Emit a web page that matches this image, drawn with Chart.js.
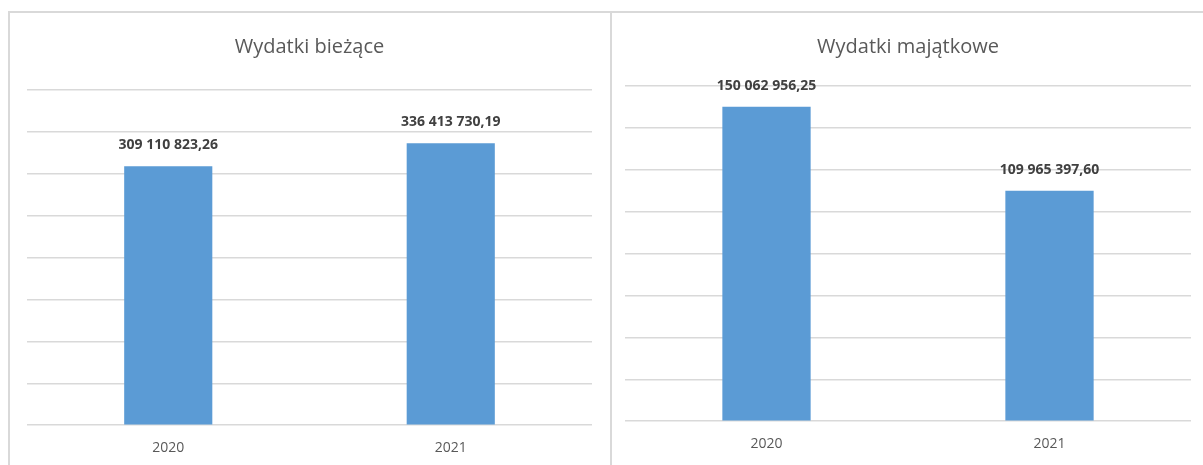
<!DOCTYPE html>
<html>
<head>
<meta charset="utf-8">
<script src="https://cdn.jsdelivr.net/npm/chart.js@4"></script>
<style>
  html, body { margin: 0; padding: 0; background: #fff; }
  body { width: 1203px; height: 465px; position: relative; overflow: hidden; }
  .panel { position: absolute; border-left: 2px solid #d9d9d9; border-top: 2px solid #d9d9d9; box-sizing: border-box; }
  .wrap { position: absolute; }
</style>
</head>
<body>
<div class="panel" style="left:8px; top:11px; width:604px; height:460px;"></div>
<div class="panel" style="left:610px; top:11px; width:600px; height:460px;"></div>
<div class="wrap" style="left:10px; top:13px; width:600px; height:467px;"><canvas id="chart1"></canvas></div>
<div class="wrap" style="left:612px; top:13px; width:591px; height:467px;"><canvas id="chart2"></canvas></div>
<script>
const years = ["2020", "2021"];
const biezace = [309110823.26, 336413730.19];
const majatkowe = [150062956.25, 109965397.60];
const title1 = "Wydatki bieżące";
const title2 = "Wydatki majątkowe";

// 309 110 823,26 style
function plNumber(v) {
  let parts = v.toFixed(2).split(".");
  let intPart = parts[0].replace(/\B(?=(\d{3})+(?!\d))/g, " ");
  return intPart + "," + parts[1];
}

const valueLabels = {
  id: "valueLabels",
  afterDatasetsDraw(chart) {
    const ctx = chart.ctx;
    const meta = chart.getDatasetMeta(0);
    ctx.save();
    ctx.font = "bold 14px 'Open Sans'";
    ctx.fillStyle = "#404040";
    ctx.textAlign = "center";
    ctx.textBaseline = "middle";
    meta.data.forEach((bar, i) => {
      ctx.fillText(plNumber(chart.data.datasets[0].data[i]), bar.x, bar.y - 21);
    });
    ctx.restore();
  }
};

function makeChart(id, title, values, max, step, pad, titleBottom) {
  return new Chart(document.getElementById(id), {
    type: "bar",
    data: {
      labels: years,
      datasets: [{
        data: values,
        backgroundColor: "#5b9bd5",
        barPercentage: 0.312,
        categoryPercentage: 1
      }]
    },
    options: {
      responsive: true,
      maintainAspectRatio: false,
      animation: false,
      layout: { padding: pad },
      plugins: {
        legend: { display: false },
        tooltip: { enabled: false },
        title: {
          display: true,
          text: title,
          color: "#595959",
          font: { family: "'Open Sans'", size: 20, weight: "normal" },
          padding: { top: 22, bottom: titleBottom }
        }
      },
      scales: {
        x: {
          grid: { display: false, drawTicks: false },
          border: { display: false },
          ticks: { color: "#595959", font: { family: "'Open Sans'", size: 14 }, padding: 14 }
        },
        y: {
          min: 0,
          max: max,
          grid: { color: "#d9d9d9", lineWidth: 1.5, drawTicks: false },
          border: { display: false },
          ticks: { display: false, stepSize: step }
        }
      }
    },
    plugins: [valueLabels]
  });
}

makeChart("chart1", title1, biezace, 400000000, 50000000, { left: 17, right: 18, top: 0, bottom: 10 }, 31);
makeChart("chart2", title2, majatkowe, 160000000, 20000000, { left: 13, right: 12, top: 0, bottom: 14 }, 27);
</script>
</body>
</html>
